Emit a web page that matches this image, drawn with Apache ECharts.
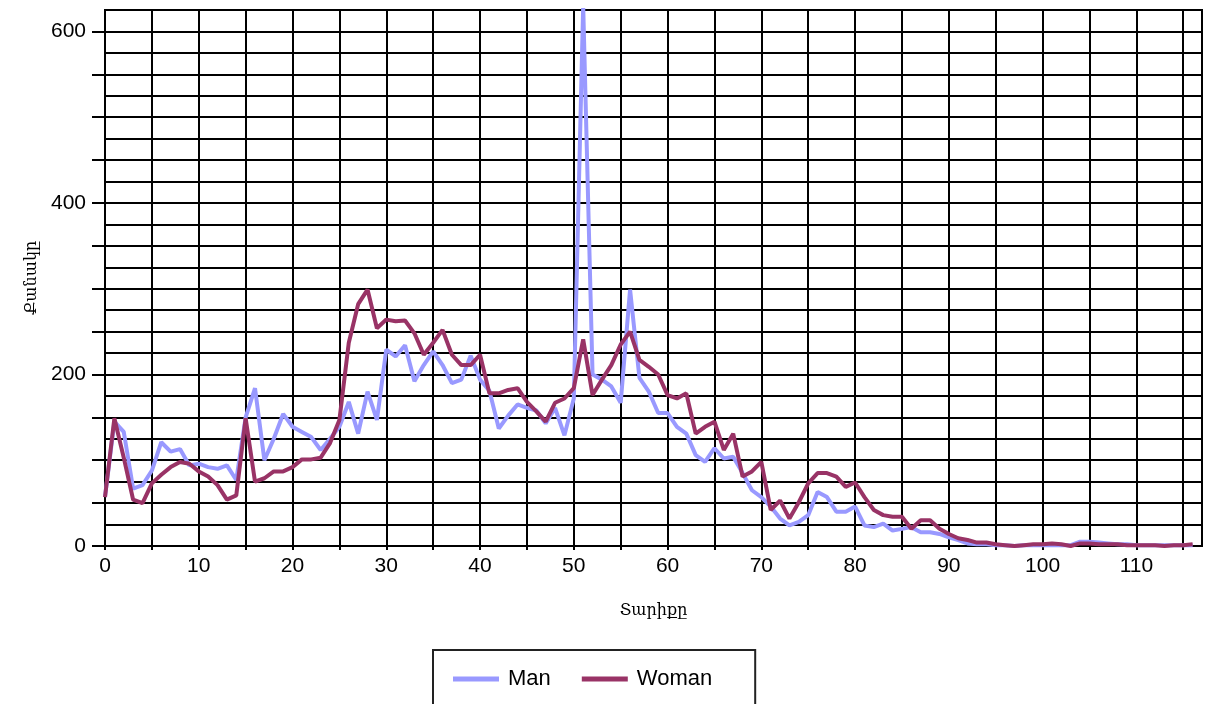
<!DOCTYPE html>
<html>
<head>
<meta charset="utf-8">
<script src="https://cdn.jsdelivr.net/npm/echarts@6/dist/echarts.min.js"></script>
<style>html,body{margin:0;padding:0;background:#fff}#c{width:1205px;height:704px}</style>
</head>
<body>
<div id="c"></div>
<script>
const ages = Array.from({length: 117}, (_, i) => i);
const manValues = [57,145,133,67,71,88,121,110,113,94,96,92,90,94,77,150,184,100,125,154,139,133,127,112,125,139,168,131,180,147,229,221,234,192,211,227,211,190,194,222,194,181,137,152,165,161,158,143,161,129,172,630,200,194,186,167,299,196,180,155,155,139,131,106,98,114,102,104,85,65,57,46,32,24,28,36,63,57,40,40,46,24,22,26,18,20,22,16,16,14,10,7,3,2,2,1,1,0,1,1,1,1,1,1,5,5,4,3,2,2,1,1,1,1,1,1,1];
const womanValues = [57,149,103,54,50,73,83,92,98,96,87,81,71,54,59,149,75,79,87,87,92,101,101,103,120,147,237,282,299,254,264,262,263,248,223,237,252,223,211,211,223,178,178,182,184,168,157,145,167,172,184,241,176,194,211,235,250,217,209,200,176,172,178,131,139,145,112,131,81,87,98,42,53,32,51,73,85,85,81,69,74,57,42,36,34,34,20,30,30,20,14,9,7,4,4,2,1,0,1,2,2,3,2,0,3,3,2,2,2,1,1,1,1,0,1,1,2];
const seriesNames = ['Man', 'Woman'];
const xName = 'Տարիքը';
const yName = 'Քանակը';
const xTickValues = [0,5,10,15,20,25,30,35,40,45,50,55,60,65,70,75,80,85,90,95,100,105,110,115];
const xLabelValues = [0,10,20,30,40,50,60,70,80,90,100,110];
const yTickValues = [0,50,100,150,200,250,300,350,400,450,500,550,600];
const yLabelValues = [0,200,400,600];

const chart = echarts.init(document.getElementById('c'), null, {renderer: 'canvas'});
chart.setOption({
  animation: false,
  backgroundColor: '#fff',
  grid: {left: 105, right: 3, top: 10, bottom: 158, show: true, borderColor: '#000', borderWidth: 2, backgroundColor: 'transparent'},
  legend: {
    left: 433, top: 650,
    padding: [18, 43, 40, 20],
    borderColor: '#222', borderWidth: 2,
    itemGap: 31, itemWidth: 46, itemHeight: 5,
    icon: 'rect',
    textStyle: {fontFamily: 'Liberation Sans, Arial', fontSize: 22, color: '#000', padding: [0, 0, 0, 4]},
    data: seriesNames
  },
  xAxis: {
    type: 'value', min: 0, max: 117, interval: 5,
    name: xName, nameLocation: 'middle', nameGap: 57,
    nameTextStyle: {fontFamily: 'DejaVu Serif', fontSize: 16, color: '#000'},
    axisLine: {show: true, lineStyle: {color: '#000', width: 2}},
    axisTick: {show: true, length: 4, customValues: xTickValues, lineStyle: {color: '#000', width: 2}},
    axisLabel: {margin: 10, fontFamily: 'Liberation Sans, Arial', fontSize: 21, color: '#000',
      customValues: xLabelValues},
    splitLine: {show: true, lineStyle: {color: '#000', width: 2}}
  },
  yAxis: {
    type: 'value', min: 0, max: 625, interval: 50,
    name: yName, nameLocation: 'middle', nameGap: 61,
    nameTextStyle: {fontFamily: 'DejaVu Serif', fontSize: 16, color: '#000'},
    axisLine: {show: true, lineStyle: {color: '#000', width: 2}},
    axisTick: {show: true, length: 13, customValues: yTickValues, lineStyle: {color: '#000', width: 2}},
    axisLabel: {margin: 19, fontFamily: 'Liberation Sans, Arial', fontSize: 21, color: '#000',
      customValues: yLabelValues},
    splitLine: {show: true, lineStyle: {color: '#000', width: 2}},
    minorTick: {show: false, splitNumber: 2},
    minorSplitLine: {show: true, lineStyle: {color: '#000', width: 2}}
  },
  series: [
    {name: seriesNames[0], type: 'line', symbol: 'none', clip: true, color: '#9999ff',
      lineStyle: {width: 4, color: '#9999ff'},
      data: ages.map((a, i) => [a, manValues[i]])},
    {name: seriesNames[1], type: 'line', symbol: 'none', clip: true, color: '#993366',
      lineStyle: {width: 4, color: '#993366'},
      data: ages.map((a, i) => [a, womanValues[i]])}
  ]
});
</script>
</body>
</html>
